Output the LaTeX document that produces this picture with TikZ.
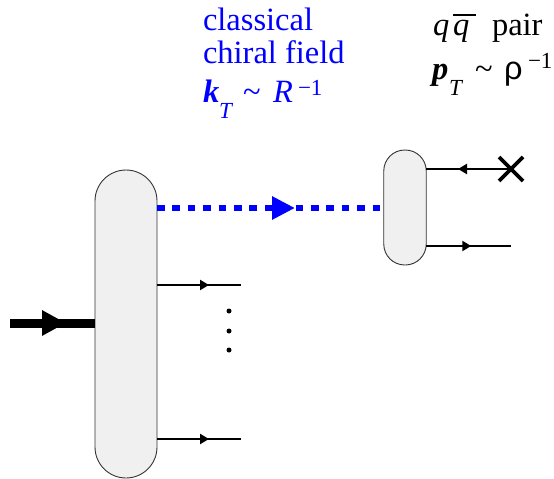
\documentclass[tikz,border=0pt]{standalone}
\usepackage{fontspec}
\setmainfont{Liberation Serif}
\newfontfamily\sansrho{Liberation Sans}
\usetikzlibrary{arrows.meta,decorations.markings}
\newcommand{\mainsize}{\fontsize{32.5}{36}\selectfont}
\newcommand{\scriptsz}{\fontsize{23}{26}\selectfont}
\tikzset{
  blob/.style={draw=black!80,line width=0.9pt,fill=black!6,rectangle,inner sep=0pt,outer sep=0pt},
  label/.style={anchor=base west,inner sep=0pt,outer sep=0pt,font=\mainsize},
  sublabel/.style={anchor=base west,inner sep=0pt,outer sep=0pt,font=\scriptsz},
  bluetext/.style={text=blue},
  quark/.style={line width=2.4pt,draw=black},
  tipat/.style args={#1 dir #2}{postaction={decorate,decoration={markings,mark=at position #1 with {\arrow{#2}}}}},
}
\begin{document}
\begin{tikzpicture}[x=1pt,y=-1pt]
\useasboundingbox (0,0) rectangle (554,479);
% blobs
\node[blob,rounded corners=31pt,minimum width=62pt,minimum height=308pt] (big) at (126,324) {};
\node[blob,rounded corners=21pt,minimum width=42.5pt,minimum height=115pt] (small) at (405,207.5) {};
% free ends
\coordinate (in) at (10,323);
\coordinate (o1) at (241,285);
\coordinate (o2) at (241,439);
\coordinate (xc) at (511,169);
\coordinate (q2) at (511,246);
\coordinate (fieldy) at (0,208);
% connectors
\draw[line width=9pt,tipat={56pt dir {Triangle[length=24pt,width=24pt]}}] (in) -- (big.west |- in);
\draw[quark,tipat={52pt dir {Triangle[length=9pt,width=10pt]}}] (big.east |- o1) -- (o1);
\draw[quark,tipat={52pt dir {Triangle[length=9pt,width=10pt]}}] (big.east |- o2) -- (o2);
\draw[quark,tipat={53pt dir {Triangle[length=9pt,width=10pt]}}] (xc) -- (small.east |- xc);
\draw[quark,tipat={45pt dir {Triangle[length=9pt,width=10pt]}}] (small.east |- q2) -- (q2);
\draw[blue,line width=6.5pt,dash pattern=on 7.6pt off 7.8pt,shorten >=4pt,tipat={138pt dir {Triangle[length=23pt,width=22pt]}}] (big.east |- fieldy) -- (small.west |- fieldy);
% cross
\coordinate (xa) at (499,157);
\coordinate (xb) at (523,181);
\coordinate (xd) at (499,181);
\coordinate (xe) at (523,157);
\draw[line width=3.6pt] (xa) -- (xb);
\draw[line width=3.6pt] (xd) -- (xe);
% dots
\fill (229,311) circle (2.5pt);
\fill (229,331) circle (2.5pt);
\fill (229,350) circle (2.5pt);
% blue labels
\node[label,bluetext] (t1) at (203,30) {classical};
\node[label,bluetext] (t2) at (203,63) {chiral field};
\node[label,bluetext] (t3) at (203,102) {\textbf{\textit{k}}};
\node[sublabel,bluetext] (t4) at (219,118) {\textit{T}};
\node[label,bluetext] (t5) at (243,102) {\textasciitilde};
\node[label,bluetext] (t6) at (273,102) {\textit{R}};
\node[sublabel,bluetext] (t7) at (298,95) {\textminus 1};
% black labels
\node[label] (r1) at (433,35) {\textit{q}};
\node[label] (r2) at (453,35) {\textit{q}};
\draw[line width=2pt] (453,14.5) -- (476,14.5);
\node[label] (r3) at (492,35) {pair};
\node[label] (r4) at (432,79) {\textbf{\textit{p}}};
\node[sublabel] (r5) at (449,95) {\textit{T}};
\node[label] (r6) at (475,79) {\textasciitilde};
\node[label] (r7) at (504,79) {\sansrho ρ};
\node[sublabel] (r8) at (528,68) {\textminus 1};
\end{tikzpicture}
\end{document}
